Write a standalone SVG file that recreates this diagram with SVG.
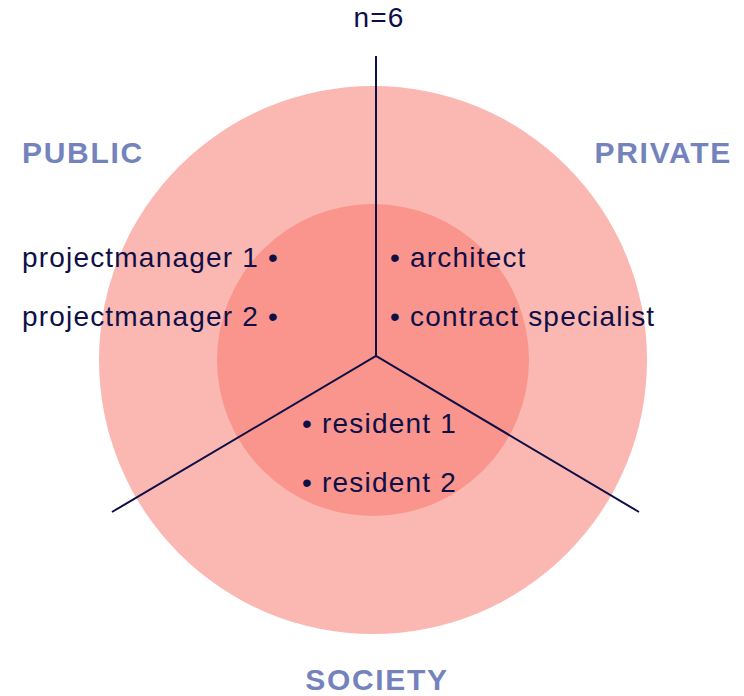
<svg xmlns="http://www.w3.org/2000/svg" width="744" height="696" viewBox="0 0 744 696">
<style>
.t{font-family:"Liberation Sans",Arial,sans-serif;font-size:28px;letter-spacing:1.2px;fill:#0e0f47}
.h{font-family:"Liberation Sans",Arial,sans-serif;font-size:30px;font-weight:bold;letter-spacing:1.7px;fill:#7583bd}
.c{stroke:#0e0f47;stroke-width:2;fill:none}
</style>
<rect width="744" height="696" fill="#ffffff"/>
<g id="outer"><circle cx="373" cy="360" r="274" fill="#fbb8b2"/></g>
<g id="inner"><circle cx="373" cy="360" r="156" fill="#f9958c"/></g>
<g id="connectors">
<polyline class="c" points="376,56 376,356"/>
<polyline class="c" points="112,512 376,356 639,512"/>
</g>
<g id="n"><text class="t" x="379" y="27" text-anchor="middle">n=6</text></g>
<g id="public">
<text class="h" x="22" y="163">PUBLIC</text>
<text class="t" x="279" y="267" text-anchor="end">projectmanager 1 •</text>
<text class="t" x="279" y="326" text-anchor="end">projectmanager 2 •</text>
</g>
<g id="private">
<text class="h" x="732" y="163" text-anchor="end">PRIVATE</text>
<text class="t" x="390" y="267">• architect</text>
<text class="t" x="390" y="326">• contract specialist</text>
</g>
<g id="society">
<text class="h" x="377" y="690" text-anchor="middle">SOCIETY</text>
<text class="t" x="302" y="433">• resident 1</text>
<text class="t" x="302" y="492">• resident 2</text>
</g>
</svg>
